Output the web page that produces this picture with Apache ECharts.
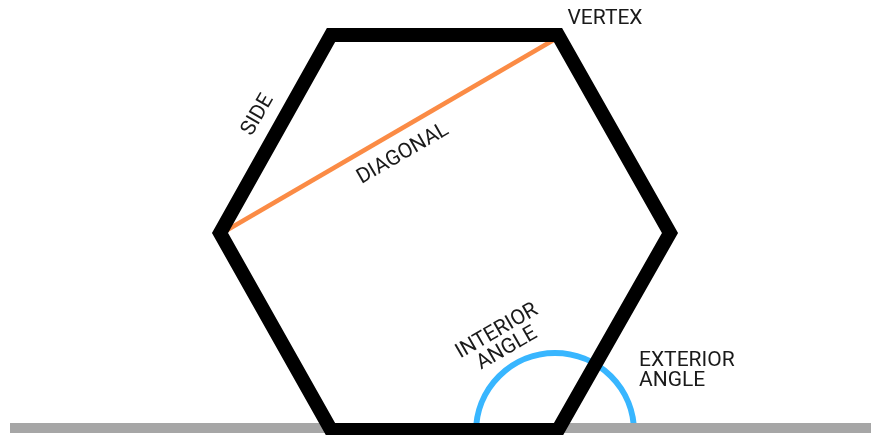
<!DOCTYPE html>
<html>
<head>
<meta charset="utf-8">
<script src="https://cdn.jsdelivr.net/npm/echarts@6/dist/echarts.min.js"></script>
<style>
  html, body { margin: 0; padding: 0; background: #fff; }
  #chart { width: 871px; height: 435px; }
</style>
</head>
<body>
<div id="chart"></div>
<script>
// hexagon corners (stroke centre), in picture units
var hexX = [331, 558, 670, 558, 331, 220];
var hexY = [35, 35, 233, 430, 430, 233];

var diagonalX = [222, 557];
var diagonalY = [233, 38];

var groundX = [10, 871];
var groundY = [428, 428];

var arcCenter = [555, 432];
var arcRadius = 79;

var labelText = ["VERTEX", "SIDE", "DIAGONAL", "INTERIOR\nANGLE", "EXTERIOR\nANGLE"];
var labelX = [605, 258, 403, 502, 639];
var labelY = [19, 115, 154, 340, 371];
var labelRotate = [0, 60, 30, 30, 0];
var labelAlign = ["center", "center", "center", "center", "left"];

function pairs(xs, ys) {
  var out = [];
  for (var i = 0; i < xs.length; i++) out.push([xs[i], ys[i]]);
  return out;
}

var chartDom = document.getElementById("chart");
var myChart = echarts.init(chartDom, null, { renderer: "canvas" });
var option;

option = {
  animation: false,
  backgroundColor: "#fff",
  grid: { left: 0, right: 0, top: 0, bottom: 0 },
  xAxis: { type: "value", min: 0, max: 871, show: false },
  yAxis: { type: "value", min: 0, max: 435, inverse: true, show: false },
  series: [
    {
      // orange diagonal
      type: "line",
      z: 1,
      symbol: "none",
      data: pairs(diagonalX, diagonalY),
      lineStyle: { color: "#fb8b45", width: 4.5, cap: "butt" }
    },
    {
      // blue angle arc
      type: "custom",
      z: 1,
      data: [arcCenter],
      renderItem: function (params, api) {
        var c = api.coord([api.value(0), api.value(1)]);
        var r = api.size([arcRadius, 0])[0];
        return {
          type: "arc",
          shape: { cx: c[0], cy: c[1], r: r, startAngle: Math.PI, endAngle: 2 * Math.PI, clockwise: true },
          style: { fill: null, stroke: "#38b6ff", lineWidth: 6 }
        };
      }
    },
    {
      // grey ground
      type: "line",
      z: 2,
      symbol: "none",
      data: pairs(groundX, groundY),
      lineStyle: { color: "#a6a6a6", width: 10, cap: "butt" }
    },
    {
      // hexagon
      type: "custom",
      z: 3,
      data: [0],
      renderItem: function (params, api) {
        var pts = [];
        for (var i = 0; i < hexX.length; i++) pts.push(api.coord([hexX[i], hexY[i]]));
        return {
          type: "polygon",
          shape: { points: pts },
          style: { fill: null, stroke: "#000", lineWidth: 14, lineJoin: "miter", miterLimit: 10 }
        };
      }
    },
    {
      // labels
      type: "custom",
      z: 4,
      data: labelText.map(function (t, i) { return [labelX[i], labelY[i], i]; }),
      renderItem: function (params, api) {
        var i = api.value(2);
        var p = api.coord([api.value(0), api.value(1)]);
        return {
          type: "text",
          x: p[0],
          y: p[1],
          rotation: labelRotate[i] * Math.PI / 180,
          style: {
            text: labelText[i],
            x: 0,
            y: 0,
            align: labelAlign[i],
            verticalAlign: "middle",
            fill: "#1a1a1a",
            font: "21px Roboto",
            lineHeight: 20
          }
        };
      }
    }
  ]
};
option && myChart.setOption(option);
window.addEventListener("resize", function () {
  myChart.resize();
});
</script>
</body>
</html>
